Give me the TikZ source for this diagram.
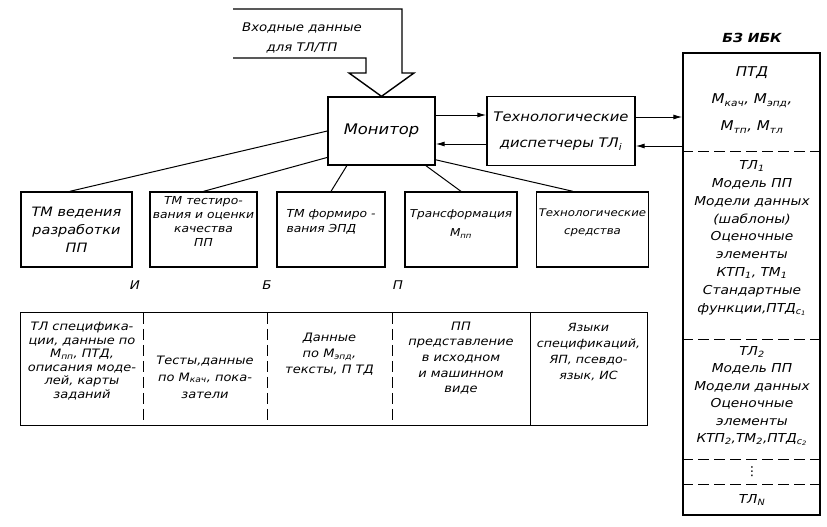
\documentclass[tikz,border=0pt]{standalone}
\usepackage{fontspec}
\setmainfont{DejaVu Sans}[ItalicFont={DejaVu Sans Oblique},BoldFont={DejaVu Sans Bold},BoldItalicFont={DejaVu Sans Bold Oblique},FakeStretch=1.12]
\usetikzlibrary{arrows.meta}
\newcommand{\fsz}[2]{\fontsize{#1}{#2}\selectfont\itshape}
\newcommand{\Ms}[1]{M\textsubscript{#1}}
\tikzset{
  blk/.style={draw, line width=1.3pt, minimum width=110pt, minimum height=75pt, inner sep=2pt, align=center, font=\fsz{10.6}{15}},
  conn/.style={line width=1pt},
  arr/.style={line width=1pt, -{Latex[length=9pt,width=5pt]}},
  sep/.style={line width=1pt, dash pattern=on 11pt off 5pt},
  col/.style={minimum height=112pt, inner sep=0pt},
  ctxt/.style={align=center, inner sep=0pt, font=\fsz{11.6}{13.6}},
}
\begin{document}
\begin{tikzpicture}[x=1pt,y=-1pt]
                \useasboundingbox (0,0) rectangle (827,527);
                %%% Monitor and dispatchers
                \node[blk, minimum width=107pt, minimum height=68pt, font=\fsz{14.6}{18}] (mon) at (381.5,131) {Монитор};
                \node[blk, minimum width=148pt, minimum height=69pt, font=\fsz{13.2}{26}] (disp) at (561,131) {Технологические\\диспетчеры ТЛ\textsubscript{i}};
                %%% Input block arrow
                \draw[line width=1.4pt, line join=miter] (233,9) -- (402,9) -- (402,73) -- (414,73) -- (mon.north) -- (349,73) -- (366,73) -- (366,58) -- (233,58);
                \node[align=center, font=\fsz{11.9}{20}] (inp) at (302,38) {Входные данные\\для ТЛ/ТП};
                %%% Knowledge base
                \node[draw, line width=1.3pt, minimum width=137pt, minimum height=462pt, inner sep=0pt] (bz) at (751.5,284) {};
                \node[font=\fsz{12.5}{15}\bfseries] (bzt) at (752,38) {БЗ ИБК};
                \draw[sep] ([yshift=-99pt]bz.north west) -- ([yshift=-99pt]bz.north east);
                \draw[sep] ([yshift=-287pt]bz.north west) -- ([yshift=-287pt]bz.north east);
                \draw[sep] ([yshift=-407pt]bz.north west) -- ([yshift=-407pt]bz.north east);
                \draw[sep] ([yshift=-432pt]bz.north west) -- ([yshift=-432pt]bz.north east);
                \node[align=center, font=\fsz{13.5}{27}] (kb0) at (752,100) {ПТД\\\Ms{кач}, \Ms{эпд},\\\Ms{тп}, \Ms{тл}};
                \node[align=center, font=\fsz{12.3}{17.9}] (kb1) at (752,238) {ТЛ\textsubscript{1}\\Модель ПП\\Модели данных\\(шаблоны)\\Оценочные\\элементы\\КТП\textsubscript{1}, ТМ\textsubscript{1}\\Стандартные\\функции,ПТД\textsubscript{c\textsubscript{1}}};
                \node[align=center, font=\fsz{12.3}{17.4}] (kb2) at (752,396) {ТЛ\textsubscript{2}\\Модель ПП\\Модели данных\\Оценочные\\элементы\\КТП\textsubscript{2},ТМ\textsubscript{2},ПТД\textsubscript{c\textsubscript{2}}};
                \node[font=\fsz{12.3}{15}] (kbd) at (752,472) {⋮};
                \node[font=\fsz{12.3}{15}] (kbn) at (752,500) {ТЛ\textsubscript{N}};
                %%% Arrows between monitor, dispatchers and base
                \draw[arr] ([yshift=16pt]mon.east) -- ([yshift=16pt]disp.west);
                \draw[arr] ([yshift=-13pt]disp.west) -- ([yshift=-13pt]mon.east);
                \coordinate (d1) at ([yshift=14pt]disp.east);
                \coordinate (d2) at ([yshift=-15pt]disp.east);
                \draw[arr] (d1) -- (d1 -| bz.west);
                \draw[arr] (d2 -| bz.west) -- (d2);
                %%% Technological modules
                \node[blk, minimum width=111pt, font=\fsz{12.9}{18}] (b1) at (76.5,229.5) {ТМ ведения\\разработки\\ПП};
                \node[blk, minimum width=107pt, font=\fsz{11}{14.3}] (b2) at (203.5,229.5) {ТМ тестиро-\\вания и оценки\\качества\\ПП\\[1.7pt]};
                \node[blk, minimum width=108pt, align=left, font=\fsz{11}{14.5}] (b3) at (331,229.5) {ТМ формиро -\\вания ЭПД\\[2.5pt]};
                \node[blk, minimum width=112pt, font=\fsz{10.8}{19}] (b4) at (461,229.5) {Трансформация\\\Ms{пп}\\[-7pt]};
                \node[blk, minimum width=111pt, font=\fsz{10.5}{18}] (b5) at (592.5,229.5) {Технологические\\средства\\[-2pt]};
                \draw[conn] (mon.west) -- (b1.100);
                \draw[conn] (mon.206) -- (b2.north);
                \draw[conn] (mon.225) -- (b3.north);
                \draw[conn] (mon.322) -- (b4.north);
                \draw[conn] (mon.332) -- (b5.117);
                %%% Letters over the table
                \node[font=\fsz{12}{14}] (li) at (135,285) {И};
                \node[font=\fsz{12}{14}] (lb) at (267,285) {Б};
                \node[font=\fsz{12}{14}] (lp) at (398,285) {П};
                %%% Data table
                \node[col, minimum width=122pt] (c1) at (82,369) {};
                \node[col, minimum width=124pt] (c2) at (205,369) {};
                \node[col, minimum width=125pt] (c3) at (329.5,369) {};
                \node[col, minimum width=138pt] (c4) at (461,369) {};
                \node[col, minimum width=117pt] (c5) at (588.5,369) {};
                \draw[line width=1.3pt] (c1.north west) rectangle (c5.south east);
                \draw[sep] (c1.north east) -- (c1.south east);
                \draw[sep] (c2.north east) -- (c2.south east);
                \draw[sep] (c3.north east) -- (c3.south east);
                \draw[line width=1pt] (c4.north east) -- (c4.south east);
                \node[ctxt] (t1) at ([yshift=8pt]c1.center) {ТЛ специфика-\\ции, данные по\\\Ms{пп}, ПТД,\\описания моде-\\лей, карты\\заданий};
                \node[ctxt, font=\fsz{11.6}{17}] (t2) at ([yshift=-8pt]c2.center) {Тесты,данные\\по \Ms{кач}, пока-\\затели};
                \node[ctxt, font=\fsz{11.6}{16}] (t3) at ([yshift=15pt]c3.center) {Данные\\по \Ms{эпд},\\тексты, П ТД};
                \node[ctxt, font=\fsz{11.6}{15.7}] (t4) at ([yshift=11pt]c4.center) {ПП\\представление\\в исходном\\и машинном\\виде};
                \node[ctxt, font=\fsz{11.3}{15.7}] (t5) at ([yshift=17pt]c5.center) {Языки\\спецификаций,\\ЯП, псевдо-\\язык, ИС};
                \end{tikzpicture}
\end{document}
